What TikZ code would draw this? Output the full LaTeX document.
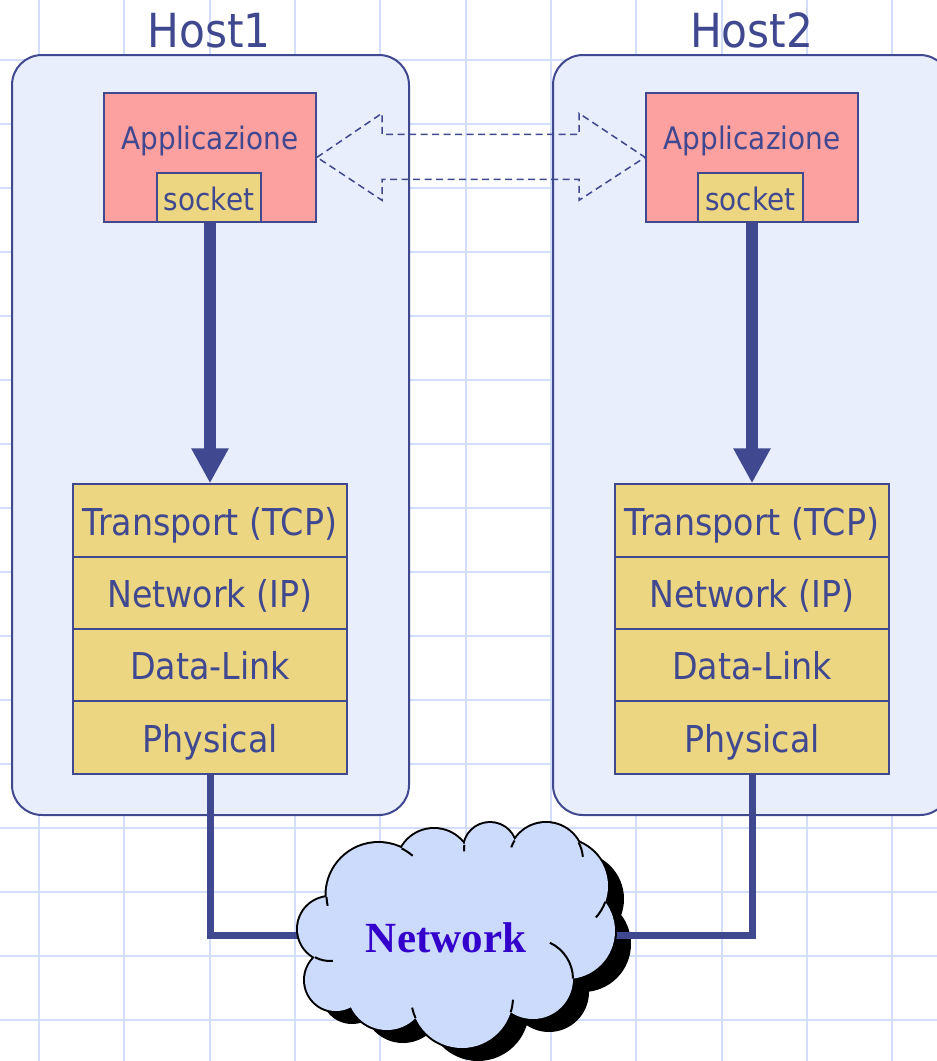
\documentclass[tikz,border=0pt]{standalone}
\usepackage{fontspec}
\setmainfont{DejaVu Sans}[FakeStretch=0.9]
\newfontfamily\netfont{Liberation Serif}
\usetikzlibrary{arrows.meta,calc}
\definecolor{ink}{RGB}{64,72,144}
\definecolor{hostfill}{RGB}{232,238,252}
\definecolor{appfill}{RGB}{252,160,160}
\definecolor{layfill}{RGB}{236,214,130}
\definecolor{gridc}{RGB}{210,222,250}
\definecolor{cloudfill}{RGB}{204,218,252}
\definecolor{nettext}{RGB}{51,0,204}
\newcommand{\cloudcircles}{(378.5,895) circle[radius=52] (434,866) circle[radius=37] (490,849) circle[radius=26] (546,860) circle[radius=37] (561,886) circle[radius=47] (567,931) circle[radius=48] (533,979) circle[radius=40] (462,997) circle[radius=51] (387,990) circle[radius=40] (336,980) circle[radius=31] (330,929) circle[radius=32]}
\newcommand{\cloudcore}{(378.5,895) -- (434,866) -- (490,849) -- (546,860) -- (561,886) -- (567,931) -- (533,979) -- (462,997) -- (387,990) -- (336,980) -- (330,929) -- cycle}
\begin{document}
\begin{tikzpicture}[x=1pt,y=-1pt,
  gridline/.style={draw=gridc, line width=2pt},
  hostbox/.style={draw=ink, line width=2pt, fill=hostfill, rounded corners=30pt, minimum width=397pt, minimum height=760pt, inner sep=0pt},
  hostlabel/.style={font=\fontsize{47}{50}\selectfont, text=ink, anchor=base, inner sep=0pt},
  appbox/.style={draw=ink, line width=2pt, fill=appfill, minimum width=212pt, minimum height=129.3pt, inner sep=0pt},
  apptext/.style={font=\fontsize{31}{34}\selectfont, text=ink, anchor=base, inner sep=0pt},
  sockbox/.style={draw=ink, line width=2pt, fill=layfill, minimum width=104.6pt, minimum height=49.3pt, inner sep=0pt, font=\fontsize{31}{34}\selectfont, text=ink, text height=26.8pt, text depth=0pt},
  layer/.style={draw=ink, line width=2pt, fill=layfill, minimum width=273.4pt, minimum height=72.35pt, inner sep=0pt, font=\fontsize{37}{40}\selectfont, text=ink, text height=29pt, text depth=0pt},
  downarrow/.style={draw=ink, line width=12pt, -{Triangle[length=35pt,width=35pt]}},
  dasharrow/.style={draw=ink, line width=1.5pt, dash pattern=on 7pt off 4.5pt},
  wire/.style={draw=ink, line width=7pt, line join=miter},
  tailarc/.style={draw=black, line width=2pt},
  nettxt/.style={font=\netfont\bfseries\fontsize{43}{46}\selectfont, text=nettext, inner sep=0pt, text height=35.4pt, text depth=0pt}
]
\useasboundingbox (0,0) rectangle (937,1061);
\clip (0,0) rectangle (937,1061);
\fill[white] (0,0) rectangle (937,1061);
% grid
\foreach \k in {0,...,10} \draw[gridline] ({39+85.33*\k},0) -- ({39+85.33*\k},1061);
\foreach \k in {0,...,15} \draw[gridline] (0,{60+64*\k}) -- (937,{60+64*\k});
% hosts
\node[hostbox] (host1) at (210.5,435) {};
\node[hostbox] (host2) at (751.5,435) {};
\node[hostlabel] (h1lab) at (209,47) {Host1};
\node[hostlabel] (h2lab) at (751.7,47) {Host2};
% application boxes
\node[appbox] (app1) at (210,157.3) {};
\node[appbox] (app2) at (752,157.3) {};
\node[apptext] (apptx1) at ($(app1.north)+(0,58)$) {Applicazione};
\node[apptext] (apptx2) at ($(app2.north)+(0,58)$) {Applicazione};
\node[sockbox] (sock1) at (209,197.35) {socket};
\node[sockbox] (sock2) at (750.2,197.35) {socket};
% dashed double arrow
\draw[dasharrow] (app1.east) -- ++(65,-44) -- ++(0,21) -- ($(app2.west)+(-66,-23)$) -- ++(0,-21) -- (app2.west) -- ++(-66,43) -- ++(0,-21) -- ($(app1.east)+(65,22)$) -- ++(0,21) -- cycle;
% stacks
\node[layer] (tr1) at (210,520.5) {Transport (TCP)};
\node[layer] (nw1) at (210,592.85) {Network (IP)};
\node[layer] (dl1) at (210,665.2) {Data-Link};
\node[layer] (ph1) at (210,737.55) {Physical};
\node[layer] (tr2) at (752,520.5) {Transport (TCP)};
\node[layer] (nw2) at (752,592.85) {Network (IP)};
\node[layer] (dl2) at (752,665.2) {Data-Link};
\node[layer] (ph2) at (752,737.55) {Physical};
% thick arrows
\draw[downarrow] (sock1.south -| app1.south) -- (tr1.north);
\draw[downarrow] (sock2.south -| app2.south) -- (tr2.north);
% cloud shadow
\begin{scope}[shift={(16,13)}]
  \fill[black] \cloudcircles;
  \fill[black] \cloudcore;
\end{scope}
% network label node (placed early so wires can reach it)
\path (446,935) node[nettxt, opacity=0] (net) {Network};
% wires
\draw[wire] (ph1.south) |- (net);
\draw[wire] (ph2.south) |- (net);
% cloud
\draw[black, line width=4pt] \cloudcircles;
\fill[cloudfill] \cloudcircles;
\fill[cloudfill] \cloudcore;
\draw[tailarc] (378.5,895) ++(177.6:52) arc[start angle=177.6, end angle=168, radius=52];
\draw[tailarc] (378.5,895) ++(-63.6:52) arc[start angle=-63.6, end angle=-49, radius=52];
\draw[tailarc] (490,849) ++(189:26) arc[start angle=189, end angle=175, radius=26];
\draw[tailarc] (546,860) ++(211.8:37) arc[start angle=211.8, end angle=200, radius=37];
\draw[tailarc] (546,860) ++(-28.4:37) arc[start angle=-28.4, end angle=-5, radius=37];
\draw[tailarc] (561,886) ++(19.8:47) arc[start angle=19.8, end angle=42, radius=47];
\draw[tailarc] (533,979) ++(-0.6:40) arc[start angle=-0.6, end angle=-65, radius=40];
\draw[tailarc] (462,997) ++(17.3:51) arc[start angle=17.3, end angle=3, radius=51];
\draw[tailarc] (462,997) ++(155.6:51) arc[start angle=155.6, end angle=168, radius=51];
\draw[tailarc] (330,929) ++(118:32) arc[start angle=118, end angle=85, radius=32];
\node[nettxt] (nettx) at (net.center) {Network};
\end{tikzpicture}
\end{document}
